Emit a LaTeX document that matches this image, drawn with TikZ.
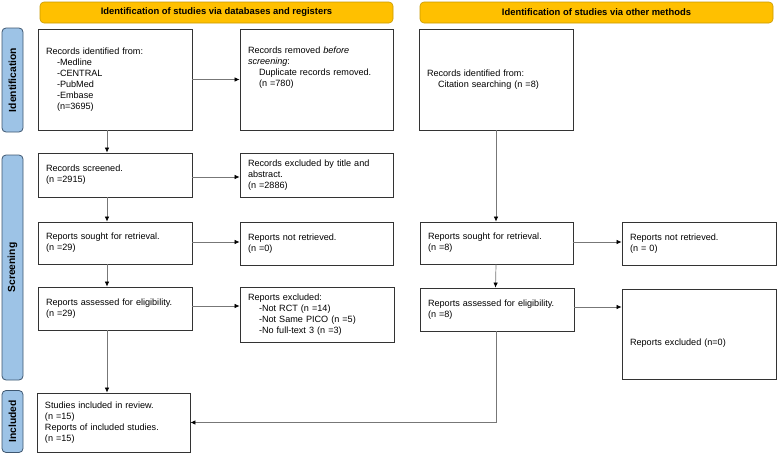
\documentclass[tikz,border=0pt]{standalone}
\usepackage{fontspec}
\setmainfont{Liberation Sans}
\usetikzlibrary{arrows.meta}
\definecolor{hdrfill}{HTML}{FFC000}
\definecolor{hdrdraw}{HTML}{C99A00}
\definecolor{sidefill}{HTML}{9DC3E6}
\definecolor{sidedraw}{HTML}{3E5770}
\definecolor{boxdraw}{HTML}{333333}
\definecolor{linecol}{HTML}{777777}
\newcommand{\ind}{\hspace*{11pt}}
\begin{document}
\begin{tikzpicture}[x=1pt,y=-1pt,
  every node/.style={font=\fontsize{9.1}{11}\selectfont},
  box/.style={draw=boxdraw, line width=0.8pt, rectangle, inner xsep=8pt, inner ysep=2pt, align=left},
  hdr/.style={draw=hdrdraw, fill=hdrfill, rounded corners=4pt, line width=0.6pt, minimum height=21pt, font=\fontsize{9.4}{11}\selectfont\bfseries},
  side/.style={draw=sidedraw, fill=sidefill, rounded corners=4pt, line width=0.8pt, rotate=90, minimum height=21pt, inner sep=0pt, font=\fontsize{10.3}{11}\selectfont\bfseries},
  arr/.style={draw=linecol, line width=0.7pt, -{Latex[length=5pt,width=4.5pt,black]}}
]
\useasboundingbox (0,0) rectangle (777,455);

% headers
\node[hdr, minimum width=353pt] (h1) at (216.5,12.5) {Identification of studies via databases and registers};
\node[hdr, minimum width=353pt] (h2) at (596.5,12.5) {Identification of studies via other methods};

% side bars
\node[side, minimum width=104pt] (s1) at (12.5,80) {Identification};
\node[side, minimum width=225pt] (s2) at (12.5,267.5) {Screening};
\node[side, minimum width=62pt] (s3) at (12.5,421.5) {Included};

% boxes
\node[box, minimum width=154pt, minimum height=101pt, text width=138pt] (A) at (115,79.5)
  {Records identified from:\\\ind -Medline\\\ind -CENTRAL\\\ind -PubMed\\\ind -Embase\\\ind (n=3695)};
\node[box, minimum width=153pt, minimum height=101pt, text width=137pt] (B) at (316.5,79.5)
  {Records removed \textit{before}\\\textit{screening}:\\\ind Duplicate records removed.\\\ind (n =780)\rule[-25pt]{0pt}{25pt}};
\node[box, minimum width=154pt, minimum height=101pt, text width=138pt] (C) at (496,79.5)
  {Records identified from:\\\ind Citation searching (n =8)};

\node[box, minimum width=154pt, minimum height=44pt, text width=138pt] (D) at (115,175)
  {Records screened.\\(n =2915)};
\node[box, minimum width=153pt, minimum height=44pt, text width=137pt] (E) at (316.5,175)
  {Records excluded by title and\\abstract.\\(n =2886)};
\node[box, minimum width=154pt, minimum height=42pt, text width=138pt] (F) at (115,243)
  {Reports sought for retrieval.\\(n =29)};
\node[box, minimum width=153pt, minimum height=43pt, text width=137pt] (G) at (316.5,243.5)
  {Reports not retrieved.\\(n =0)};
\node[box, minimum width=154pt, minimum height=43pt, text width=138pt] (H) at (115,308.5)
  {Reports assessed for eligibility.\\(n =29)};
\node[box, minimum width=154pt, minimum height=55pt, text width=138pt] (I) at (317,314.5)
  {Reports excluded:\\\ind -Not RCT (n =14)\\\ind -Not Same PICO (n =5)\\\ind -No full-text 3 (n =3)};
\node[box, minimum width=153pt, minimum height=59pt, text width=137pt] (J) at (113.5,422.5)
  {Studies included in review.\\(n =15)\\Reports of included studies.\\(n =15)};

\node[box, minimum width=153pt, minimum height=42pt, text width=137pt] (K) at (496.5,243)
  {Reports sought for retrieval.\\(n =8)};
\node[box, minimum width=154pt, minimum height=43pt, text width=138pt] (L) at (699,243.5)
  {Reports not retrieved.\\(n = 0)};
\node[box, minimum width=154pt, minimum height=43pt, text width=138pt] (M) at (497,309.5)
  {Reports assessed for eligibility.\\(n =8)};
\node[box, minimum width=154pt, minimum height=90pt, text width=138pt] (N) at (699,334)
  {\rule{0pt}{25pt}Reports excluded (n=0)};

% connectors
\draw[arr] (A.east) -- (B.west);
\draw[arr] ([xshift=-8pt]A.south) -- ([xshift=-8pt]D.north);
\draw[arr] ([yshift=-2pt]D.east) -- ([yshift=-2pt]D.east -| E.west);
\draw[arr] ([xshift=-8pt]D.south) -- ([xshift=-8pt]F.north);
\draw[arr] ([yshift=1pt]F.east) -- ([yshift=1pt]F.east -| G.west);
\draw[arr] ([xshift=-8pt]F.south) -- ([xshift=-8pt]H.north);
\draw[arr] ([yshift=2.5pt]H.east) -- ([yshift=2.5pt]H.east -| I.west);
\draw[arr] ([xshift=-8pt]H.south) -- ([xshift=-6.5pt]J.north);
\draw[arr] (C.south) -- (C.south |- K.north);
\draw[arr] ([yshift=1pt]K.east) -- ([yshift=1pt]K.east -| L.west);
\draw[arr] ([xshift=-0.5pt]K.south) -- ([xshift=-1.5pt]M.north);
\draw[arr] ([yshift=2.5pt]M.east) -- ([yshift=2.5pt]M.east -| N.west);
\draw[arr] ([xshift=-1pt]M.south) |- (J.east);
\end{tikzpicture}
\end{document}
